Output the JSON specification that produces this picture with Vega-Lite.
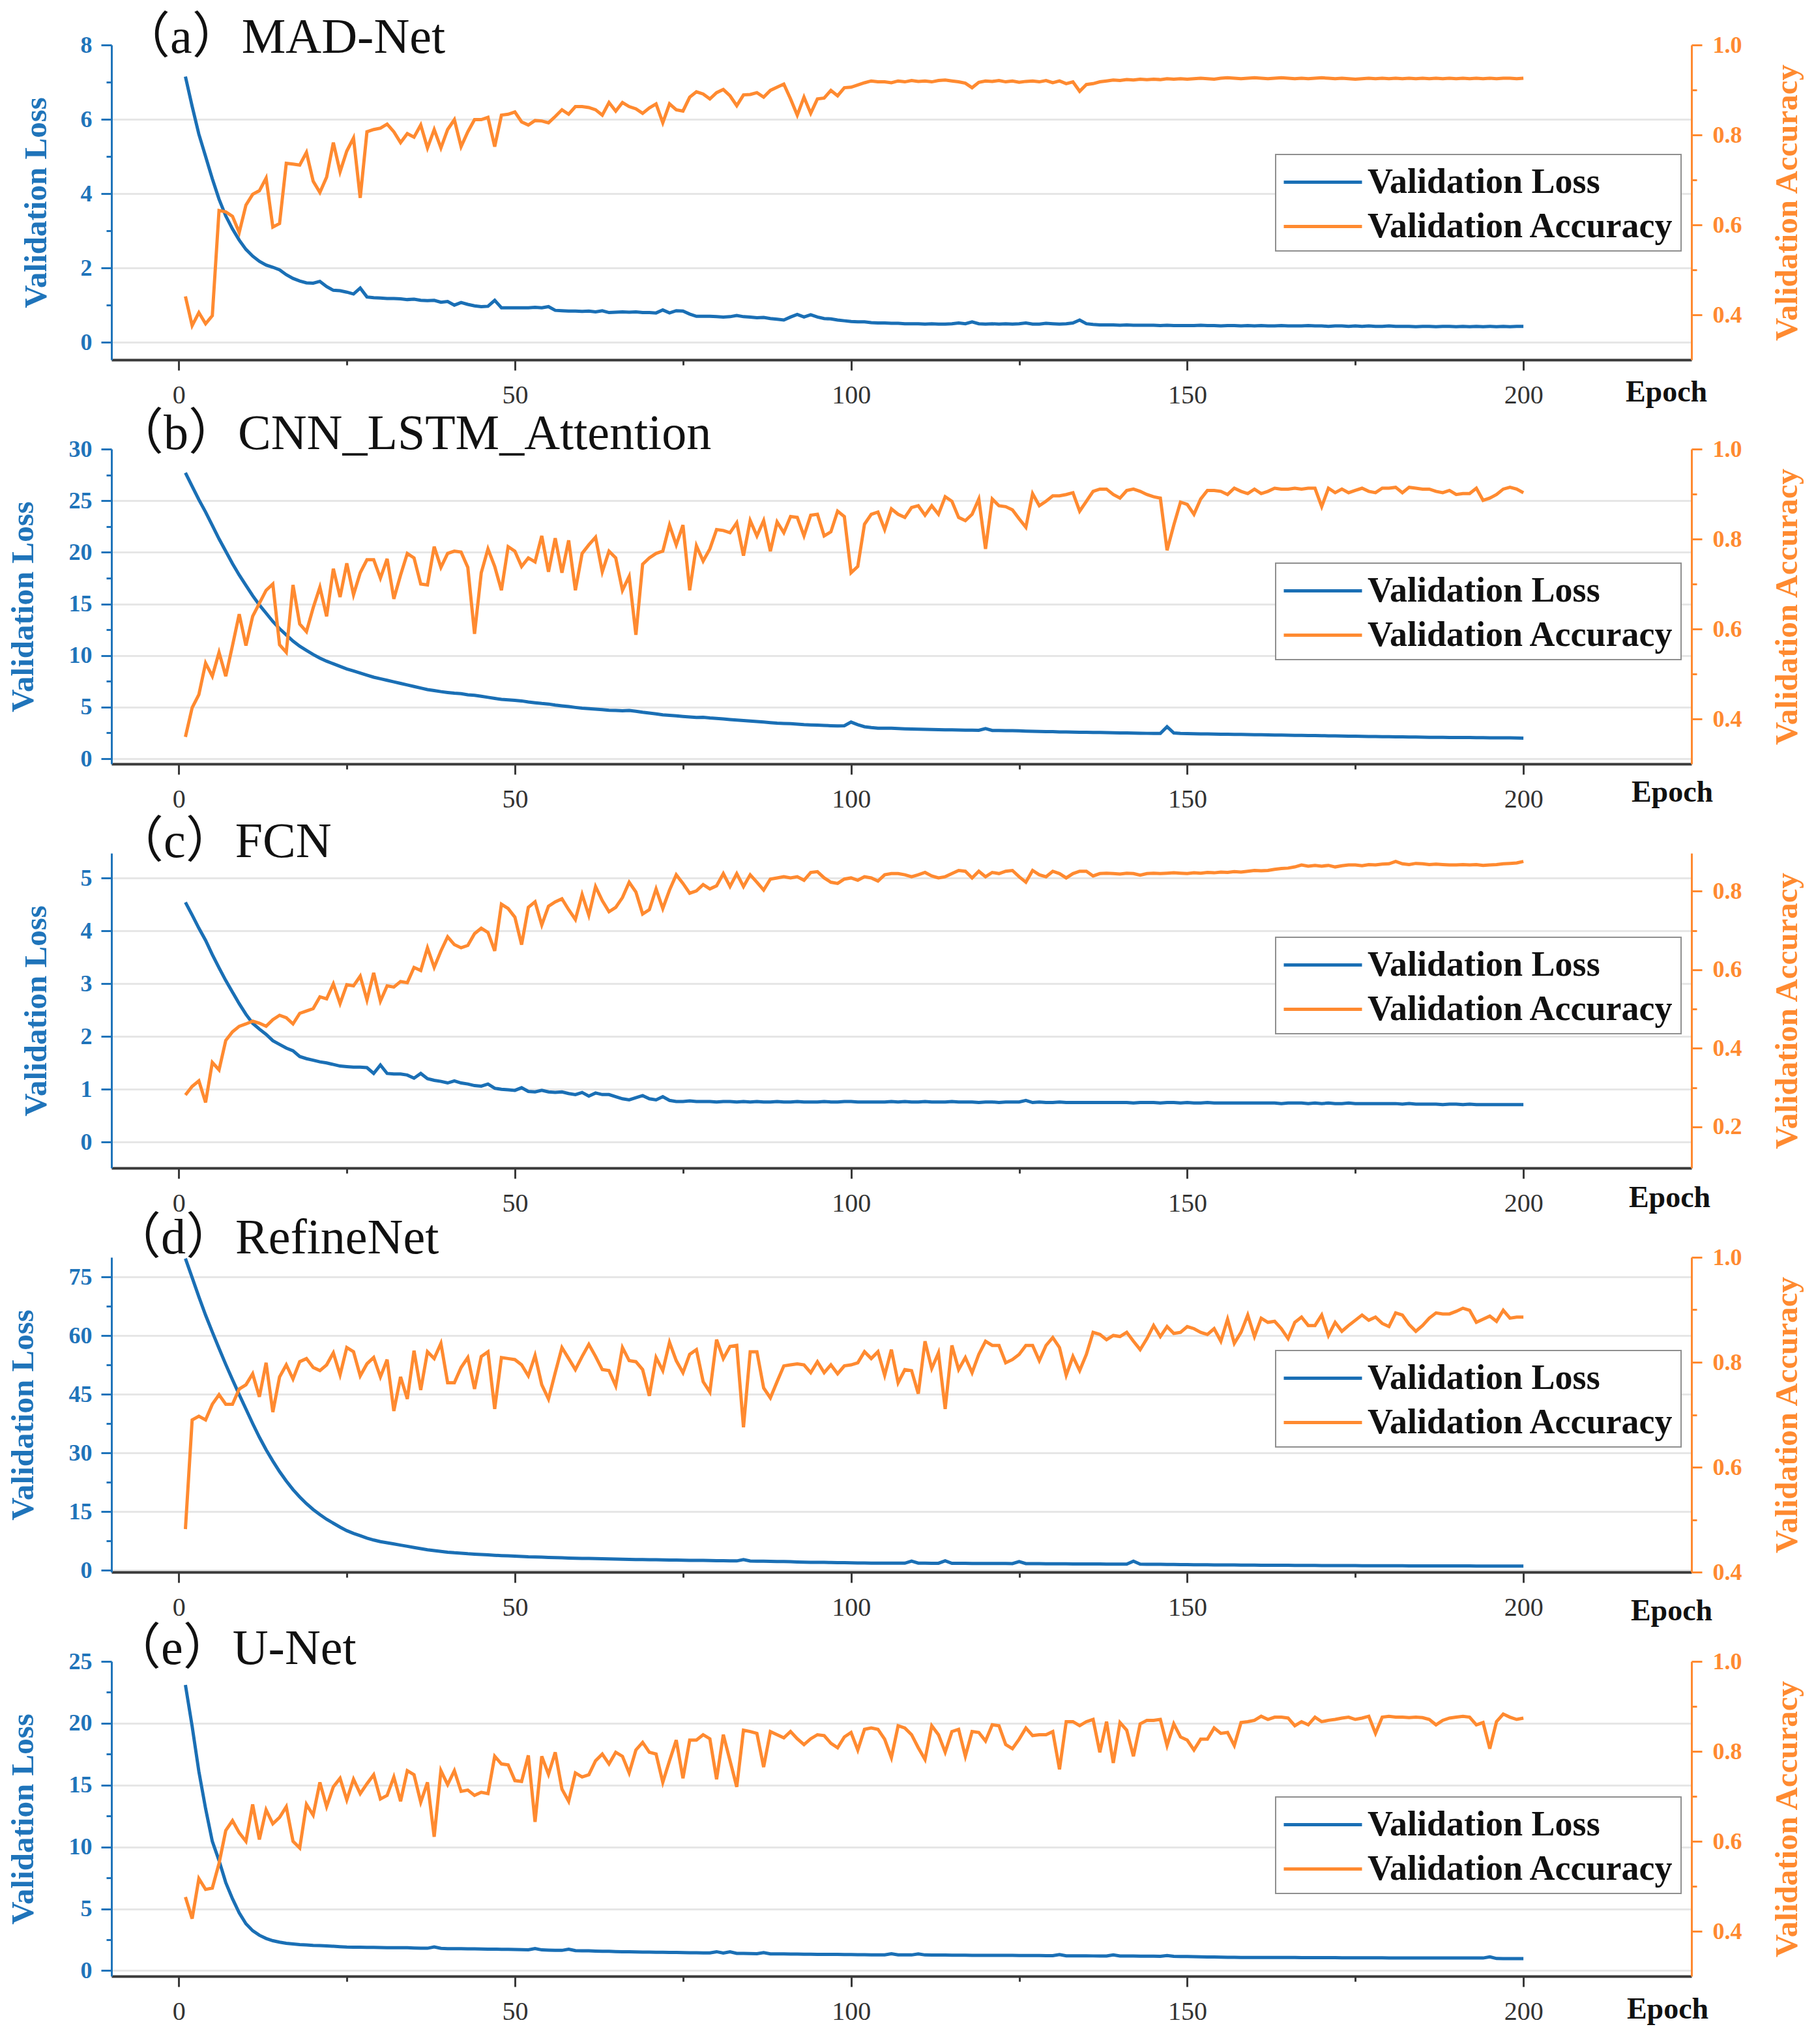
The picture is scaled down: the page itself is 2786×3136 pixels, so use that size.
{
  "$schema": "https://vega.github.io/schema/vega-lite/v6.json",
  "background": "white",
  "padding": {"left": 11, "top": 20, "right": 10, "bottom": 10},
  "spacing": 137,
  "bounds": "flush",
  "resolve": {"scale": {"color": "independent"}, "legend": {"color": "independent"}},
  "datasets": {
    "mad": [
      {"e":1,"loss":7.15,"acc":0.441},{"e":2,"loss":6.35,"acc":0.376},{"e":3,"loss":5.6,"acc":0.405},{"e":4,"loss":5.0,"acc":0.38},{"e":5,"loss":4.4,"acc":0.398},
      {"e":6,"loss":3.85,"acc":0.632},{"e":7,"loss":3.4,"acc":0.629},{"e":8,"loss":3.05,"acc":0.619},{"e":9,"loss":2.75,"acc":0.583},{"e":10,"loss":2.5,"acc":0.644},
      {"e":11,"loss":2.32,"acc":0.668},{"e":12,"loss":2.18,"acc":0.676},{"e":13,"loss":2.08,"acc":0.704},{"e":14,"loss":2.02,"acc":0.595},{"e":15,"loss":1.95,"acc":0.603},
      {"e":16,"loss":1.82,"acc":0.737},{"e":17,"loss":1.72,"acc":0.735},{"e":18,"loss":1.65,"acc":0.733},{"e":19,"loss":1.6,"acc":0.761},{"e":20,"loss":1.59,"acc":0.697},
      {"e":21,"loss":1.64,"acc":0.672},{"e":22,"loss":1.5,"acc":0.706},{"e":23,"loss":1.4,"acc":0.783},{"e":24,"loss":1.39,"acc":0.718},{"e":25,"loss":1.35,"acc":0.764},
      {"e":26,"loss":1.3,"acc":0.793},{"e":27,"loss":1.46,"acc":0.66},{"e":28,"loss":1.22,"acc":0.807},{"e":29,"loss":1.2,"acc":0.812},{"e":30,"loss":1.19,"acc":0.815},
      {"e":31,"loss":1.18,"acc":0.824},{"e":32,"loss":1.18,"acc":0.807},{"e":33,"loss":1.17,"acc":0.783},{"e":34,"loss":1.15,"acc":0.803},{"e":35,"loss":1.16,"acc":0.795},
      {"e":36,"loss":1.13,"acc":0.822},{"e":37,"loss":1.12,"acc":0.771},{"e":38,"loss":1.13,"acc":0.812},{"e":39,"loss":1.08,"acc":0.771},{"e":40,"loss":1.1,"acc":0.812},
      {"e":41,"loss":1.0,"acc":0.834},{"e":42,"loss":1.07,"acc":0.774},{"e":43,"loss":1.02,"acc":0.807},{"e":44,"loss":0.98,"acc":0.834},{"e":45,"loss":0.96,"acc":0.834},
      {"e":46,"loss":0.97,"acc":0.839},{"e":47,"loss":1.13,"acc":0.774},{"e":48,"loss":0.93,"acc":0.844},{"e":49,"loss":0.93,"acc":0.846},{"e":50,"loss":0.93,"acc":0.851},
      {"e":51,"loss":0.93,"acc":0.829},{"e":52,"loss":0.93,"acc":0.822},{"e":53,"loss":0.94,"acc":0.832},{"e":54,"loss":0.93,"acc":0.831},{"e":55,"loss":0.96,"acc":0.827},
      {"e":56,"loss":0.86,"acc":0.841},{"e":57,"loss":0.85,"acc":0.856},{"e":58,"loss":0.84,"acc":0.846},{"e":59,"loss":0.84,"acc":0.863},{"e":60,"loss":0.83,"acc":0.863},
      {"e":61,"loss":0.84,"acc":0.861},{"e":62,"loss":0.82,"acc":0.856},{"e":63,"loss":0.85,"acc":0.844},{"e":64,"loss":0.8,"acc":0.872},{"e":65,"loss":0.81,"acc":0.853},
      {"e":66,"loss":0.82,"acc":0.872},{"e":67,"loss":0.81,"acc":0.863},{"e":68,"loss":0.82,"acc":0.858},{"e":69,"loss":0.8,"acc":0.848},{"e":70,"loss":0.8,"acc":0.86},
      {"e":71,"loss":0.79,"acc":0.869},{"e":72,"loss":0.87,"acc":0.827},{"e":73,"loss":0.79,"acc":0.869},{"e":74,"loss":0.85,"acc":0.856},{"e":75,"loss":0.84,"acc":0.853},
      {"e":76,"loss":0.76,"acc":0.884},{"e":77,"loss":0.7,"acc":0.896},{"e":78,"loss":0.7,"acc":0.891},{"e":79,"loss":0.7,"acc":0.88},{"e":80,"loss":0.69,"acc":0.894},
      {"e":81,"loss":0.68,"acc":0.901},{"e":82,"loss":0.69,"acc":0.887},{"e":83,"loss":0.72,"acc":0.865},{"e":84,"loss":0.69,"acc":0.889},{"e":85,"loss":0.68,"acc":0.89},
      {"e":86,"loss":0.66,"acc":0.894},{"e":87,"loss":0.67,"acc":0.884},{"e":88,"loss":0.64,"acc":0.899},{"e":89,"loss":0.62,"acc":0.906},{"e":90,"loss":0.6,"acc":0.913},
      {"e":91,"loss":0.68,"acc":0.88},{"e":92,"loss":0.75,"acc":0.844},{"e":93,"loss":0.68,"acc":0.884},{"e":94,"loss":0.74,"acc":0.848},{"e":95,"loss":0.68,"acc":0.88},
      {"e":96,"loss":0.64,"acc":0.882},{"e":97,"loss":0.63,"acc":0.899},{"e":98,"loss":0.6,"acc":0.887},{"e":99,"loss":0.58,"acc":0.905},{"e":100,"loss":0.56,"acc":0.906},
      {"e":101,"loss":0.55,"acc":0.911},{"e":102,"loss":0.55,"acc":0.916},{"e":103,"loss":0.53,"acc":0.92},{"e":104,"loss":0.52,"acc":0.918},{"e":105,"loss":0.52,"acc":0.918},
      {"e":106,"loss":0.51,"acc":0.916},{"e":107,"loss":0.51,"acc":0.92},{"e":108,"loss":0.5,"acc":0.918},{"e":109,"loss":0.5,"acc":0.921},{"e":110,"loss":0.5,"acc":0.919},
      {"e":111,"loss":0.49,"acc":0.92},{"e":112,"loss":0.5,"acc":0.918},{"e":113,"loss":0.49,"acc":0.921},{"e":114,"loss":0.49,"acc":0.922},{"e":115,"loss":0.5,"acc":0.92},
      {"e":116,"loss":0.52,"acc":0.918},{"e":117,"loss":0.5,"acc":0.915},{"e":118,"loss":0.55,"acc":0.905},{"e":119,"loss":0.5,"acc":0.917},{"e":120,"loss":0.49,"acc":0.92},
      {"e":121,"loss":0.5,"acc":0.919},{"e":122,"loss":0.49,"acc":0.921},{"e":123,"loss":0.5,"acc":0.918},{"e":124,"loss":0.49,"acc":0.92},{"e":125,"loss":0.5,"acc":0.917},
      {"e":126,"loss":0.52,"acc":0.919},{"e":127,"loss":0.49,"acc":0.92},{"e":128,"loss":0.49,"acc":0.918},{"e":129,"loss":0.51,"acc":0.921},{"e":130,"loss":0.5,"acc":0.916},
      {"e":131,"loss":0.49,"acc":0.92},{"e":132,"loss":0.5,"acc":0.914},{"e":133,"loss":0.52,"acc":0.918},{"e":134,"loss":0.6,"acc":0.897},{"e":135,"loss":0.5,"acc":0.912},
      {"e":136,"loss":0.48,"acc":0.914},{"e":137,"loss":0.47,"acc":0.918},{"e":138,"loss":0.47,"acc":0.92},{"e":139,"loss":0.47,"acc":0.922},{"e":140,"loss":0.46,"acc":0.921},
      {"e":141,"loss":0.47,"acc":0.923},{"e":142,"loss":0.46,"acc":0.922},{"e":143,"loss":0.46,"acc":0.924},{"e":144,"loss":0.46,"acc":0.923},{"e":145,"loss":0.46,"acc":0.924},
      {"e":146,"loss":0.45,"acc":0.923},{"e":147,"loss":0.46,"acc":0.925},{"e":148,"loss":0.45,"acc":0.924},{"e":149,"loss":0.45,"acc":0.925},{"e":150,"loss":0.45,"acc":0.924},
      {"e":151,"loss":0.45,"acc":0.925},{"e":152,"loss":0.46,"acc":0.926},{"e":153,"loss":0.45,"acc":0.925},{"e":154,"loss":0.45,"acc":0.924},{"e":155,"loss":0.44,"acc":0.926},
      {"e":156,"loss":0.45,"acc":0.927},{"e":157,"loss":0.45,"acc":0.926},{"e":158,"loss":0.44,"acc":0.925},{"e":159,"loss":0.45,"acc":0.926},{"e":160,"loss":0.44,"acc":0.927},
      {"e":161,"loss":0.45,"acc":0.926},{"e":162,"loss":0.44,"acc":0.925},{"e":163,"loss":0.44,"acc":0.926},{"e":164,"loss":0.45,"acc":0.927},{"e":165,"loss":0.44,"acc":0.926},
      {"e":166,"loss":0.44,"acc":0.925},{"e":167,"loss":0.44,"acc":0.926},{"e":168,"loss":0.45,"acc":0.925},{"e":169,"loss":0.44,"acc":0.926},{"e":170,"loss":0.44,"acc":0.927},
      {"e":171,"loss":0.43,"acc":0.926},{"e":172,"loss":0.44,"acc":0.925},{"e":173,"loss":0.44,"acc":0.926},{"e":174,"loss":0.43,"acc":0.925},{"e":175,"loss":0.44,"acc":0.924},
      {"e":176,"loss":0.43,"acc":0.925},{"e":177,"loss":0.44,"acc":0.926},{"e":178,"loss":0.43,"acc":0.925},{"e":179,"loss":0.43,"acc":0.926},{"e":180,"loss":0.44,"acc":0.925},
      {"e":181,"loss":0.43,"acc":0.926},{"e":182,"loss":0.43,"acc":0.925},{"e":183,"loss":0.43,"acc":0.926},{"e":184,"loss":0.42,"acc":0.925},{"e":185,"loss":0.43,"acc":0.926},
      {"e":186,"loss":0.43,"acc":0.925},{"e":187,"loss":0.42,"acc":0.926},{"e":188,"loss":0.43,"acc":0.925},{"e":189,"loss":0.43,"acc":0.926},{"e":190,"loss":0.42,"acc":0.925},
      {"e":191,"loss":0.43,"acc":0.926},{"e":192,"loss":0.42,"acc":0.925},{"e":193,"loss":0.43,"acc":0.926},{"e":194,"loss":0.42,"acc":0.925},{"e":195,"loss":0.43,"acc":0.926},
      {"e":196,"loss":0.42,"acc":0.925},{"e":197,"loss":0.43,"acc":0.926},{"e":198,"loss":0.42,"acc":0.926},{"e":199,"loss":0.43,"acc":0.925},{"e":200,"loss":0.43,"acc":0.926}
    ],
    "cnn": [
      {"e":1,"loss":27.7,"acc":0.36},{"e":2,"loss":26.4,"acc":0.425},{"e":3,"loss":25.1,"acc":0.454},{"e":4,"loss":23.9,"acc":0.524},{"e":5,"loss":22.6,"acc":0.495},
      {"e":6,"loss":21.3,"acc":0.548},{"e":7,"loss":20.1,"acc":0.495},{"e":8,"loss":18.9,"acc":0.563},{"e":9,"loss":17.8,"acc":0.633},{"e":10,"loss":16.8,"acc":0.563},
      {"e":11,"loss":15.8,"acc":0.628},{"e":12,"loss":14.9,"acc":0.657},{"e":13,"loss":14.1,"acc":0.686},{"e":14,"loss":13.3,"acc":0.7},{"e":15,"loss":12.6,"acc":0.565},
      {"e":16,"loss":12.0,"acc":0.548},{"e":17,"loss":11.4,"acc":0.698},{"e":18,"loss":10.9,"acc":0.611},{"e":19,"loss":10.5,"acc":0.594},{"e":20,"loss":10.1,"acc":0.647},
      {"e":21,"loss":9.75,"acc":0.693},{"e":22,"loss":9.45,"acc":0.628},{"e":23,"loss":9.2,"acc":0.734},{"e":24,"loss":8.95,"acc":0.671},{"e":25,"loss":8.7,"acc":0.746},
      {"e":26,"loss":8.5,"acc":0.676},{"e":27,"loss":8.3,"acc":0.725},{"e":28,"loss":8.1,"acc":0.754},{"e":29,"loss":7.9,"acc":0.754},{"e":30,"loss":7.75,"acc":0.713},
      {"e":31,"loss":7.6,"acc":0.756},{"e":32,"loss":7.45,"acc":0.667},{"e":33,"loss":7.3,"acc":0.72},{"e":34,"loss":7.15,"acc":0.768},{"e":35,"loss":7.0,"acc":0.758},
      {"e":36,"loss":6.85,"acc":0.7},{"e":37,"loss":6.7,"acc":0.698},{"e":38,"loss":6.6,"acc":0.783},{"e":39,"loss":6.5,"acc":0.737},{"e":40,"loss":6.42,"acc":0.768},
      {"e":41,"loss":6.35,"acc":0.773},{"e":42,"loss":6.3,"acc":0.771},{"e":43,"loss":6.2,"acc":0.737},{"e":44,"loss":6.15,"acc":0.589},{"e":45,"loss":6.05,"acc":0.725},
      {"e":46,"loss":5.95,"acc":0.778},{"e":47,"loss":5.85,"acc":0.739},{"e":48,"loss":5.75,"acc":0.686},{"e":49,"loss":5.7,"acc":0.783},{"e":50,"loss":5.65,"acc":0.773},
      {"e":51,"loss":5.6,"acc":0.739},{"e":52,"loss":5.5,"acc":0.758},{"e":53,"loss":5.42,"acc":0.749},{"e":54,"loss":5.35,"acc":0.807},{"e":55,"loss":5.3,"acc":0.727},
      {"e":56,"loss":5.2,"acc":0.802},{"e":57,"loss":5.12,"acc":0.725},{"e":58,"loss":5.05,"acc":0.797},{"e":59,"loss":4.97,"acc":0.686},{"e":60,"loss":4.9,"acc":0.768},
      {"e":61,"loss":4.85,"acc":0.787},{"e":62,"loss":4.8,"acc":0.804},{"e":63,"loss":4.75,"acc":0.727},{"e":64,"loss":4.7,"acc":0.773},{"e":65,"loss":4.68,"acc":0.758},
      {"e":66,"loss":4.65,"acc":0.686},{"e":67,"loss":4.68,"acc":0.717},{"e":68,"loss":4.6,"acc":0.587},{"e":69,"loss":4.5,"acc":0.744},{"e":70,"loss":4.42,"acc":0.758},
      {"e":71,"loss":4.35,"acc":0.768},{"e":72,"loss":4.25,"acc":0.773},{"e":73,"loss":4.2,"acc":0.831},{"e":74,"loss":4.15,"acc":0.787},{"e":75,"loss":4.1,"acc":0.831},
      {"e":76,"loss":4.05,"acc":0.686},{"e":77,"loss":4.0,"acc":0.785},{"e":78,"loss":4.02,"acc":0.751},{"e":79,"loss":3.95,"acc":0.778},{"e":80,"loss":3.9,"acc":0.821},
      {"e":81,"loss":3.85,"acc":0.819},{"e":82,"loss":3.8,"acc":0.814},{"e":83,"loss":3.75,"acc":0.836},{"e":84,"loss":3.7,"acc":0.763},{"e":85,"loss":3.65,"acc":0.841},
      {"e":86,"loss":3.6,"acc":0.807},{"e":87,"loss":3.55,"acc":0.841},{"e":88,"loss":3.5,"acc":0.773},{"e":89,"loss":3.45,"acc":0.838},{"e":90,"loss":3.42,"acc":0.814},
      {"e":91,"loss":3.4,"acc":0.85},{"e":92,"loss":3.35,"acc":0.848},{"e":93,"loss":3.3,"acc":0.807},{"e":94,"loss":3.28,"acc":0.853},{"e":95,"loss":3.25,"acc":0.855},
      {"e":96,"loss":3.22,"acc":0.807},{"e":97,"loss":3.2,"acc":0.816},{"e":98,"loss":3.18,"acc":0.862},{"e":99,"loss":3.2,"acc":0.85},{"e":100,"loss":3.55,"acc":0.725},
      {"e":101,"loss":3.3,"acc":0.739},{"e":102,"loss":3.1,"acc":0.833},{"e":103,"loss":3.02,"acc":0.855},{"e":104,"loss":2.96,"acc":0.86},{"e":105,"loss":2.95,"acc":0.821},
      {"e":106,"loss":2.95,"acc":0.867},{"e":107,"loss":2.92,"acc":0.855},{"e":108,"loss":2.9,"acc":0.848},{"e":109,"loss":2.88,"acc":0.87},{"e":110,"loss":2.86,"acc":0.874},
      {"e":111,"loss":2.85,"acc":0.853},{"e":112,"loss":2.83,"acc":0.874},{"e":113,"loss":2.82,"acc":0.855},{"e":114,"loss":2.8,"acc":0.894},{"e":115,"loss":2.8,"acc":0.884},
      {"e":116,"loss":2.78,"acc":0.848},{"e":117,"loss":2.77,"acc":0.841},{"e":118,"loss":2.76,"acc":0.855},{"e":119,"loss":2.75,"acc":0.889},{"e":120,"loss":2.92,"acc":0.778},
      {"e":121,"loss":2.74,"acc":0.889},{"e":122,"loss":2.74,"acc":0.874},{"e":123,"loss":2.72,"acc":0.872},{"e":124,"loss":2.72,"acc":0.865},{"e":125,"loss":2.7,"acc":0.845},
      {"e":126,"loss":2.68,"acc":0.826},{"e":127,"loss":2.66,"acc":0.901},{"e":128,"loss":2.64,"acc":0.874},{"e":129,"loss":2.63,"acc":0.884},{"e":130,"loss":2.62,"acc":0.896},
      {"e":131,"loss":2.6,"acc":0.896},{"e":132,"loss":2.6,"acc":0.899},{"e":133,"loss":2.58,"acc":0.903},{"e":134,"loss":2.57,"acc":0.862},{"e":135,"loss":2.56,"acc":0.884},
      {"e":136,"loss":2.55,"acc":0.906},{"e":137,"loss":2.54,"acc":0.911},{"e":138,"loss":2.53,"acc":0.911},{"e":139,"loss":2.52,"acc":0.899},{"e":140,"loss":2.5,"acc":0.891},
      {"e":141,"loss":2.5,"acc":0.908},{"e":142,"loss":2.48,"acc":0.911},{"e":143,"loss":2.47,"acc":0.906},{"e":144,"loss":2.46,"acc":0.899},{"e":145,"loss":2.45,"acc":0.894},
      {"e":146,"loss":2.45,"acc":0.891},{"e":147,"loss":3.1,"acc":0.775},{"e":148,"loss":2.5,"acc":0.831},{"e":149,"loss":2.45,"acc":0.882},{"e":150,"loss":2.43,"acc":0.877},
      {"e":151,"loss":2.42,"acc":0.855},{"e":152,"loss":2.41,"acc":0.889},{"e":153,"loss":2.4,"acc":0.908},{"e":154,"loss":2.39,"acc":0.908},{"e":155,"loss":2.38,"acc":0.906},
      {"e":156,"loss":2.37,"acc":0.899},{"e":157,"loss":2.36,"acc":0.913},{"e":158,"loss":2.35,"acc":0.906},{"e":159,"loss":2.34,"acc":0.901},{"e":160,"loss":2.33,"acc":0.911},
      {"e":161,"loss":2.32,"acc":0.901},{"e":162,"loss":2.31,"acc":0.906},{"e":163,"loss":2.3,"acc":0.913},{"e":164,"loss":2.29,"acc":0.911},{"e":165,"loss":2.28,"acc":0.911},
      {"e":166,"loss":2.27,"acc":0.913},{"e":167,"loss":2.26,"acc":0.911},{"e":168,"loss":2.25,"acc":0.913},{"e":169,"loss":2.24,"acc":0.913},{"e":170,"loss":2.23,"acc":0.872},
      {"e":171,"loss":2.22,"acc":0.913},{"e":172,"loss":2.21,"acc":0.903},{"e":173,"loss":2.2,"acc":0.911},{"e":174,"loss":2.19,"acc":0.903},{"e":175,"loss":2.18,"acc":0.908},
      {"e":176,"loss":2.17,"acc":0.913},{"e":177,"loss":2.16,"acc":0.906},{"e":178,"loss":2.15,"acc":0.903},{"e":179,"loss":2.14,"acc":0.913},{"e":180,"loss":2.13,"acc":0.913},
      {"e":181,"loss":2.12,"acc":0.915},{"e":182,"loss":2.12,"acc":0.903},{"e":183,"loss":2.11,"acc":0.915},{"e":184,"loss":2.1,"acc":0.913},{"e":185,"loss":2.09,"acc":0.911},
      {"e":186,"loss":2.08,"acc":0.911},{"e":187,"loss":2.08,"acc":0.906},{"e":188,"loss":2.07,"acc":0.903},{"e":189,"loss":2.06,"acc":0.908},{"e":190,"loss":2.06,"acc":0.899},
      {"e":191,"loss":2.05,"acc":0.901},{"e":192,"loss":2.05,"acc":0.901},{"e":193,"loss":2.04,"acc":0.913},{"e":194,"loss":2.04,"acc":0.886},{"e":195,"loss":2.03,"acc":0.891},
      {"e":196,"loss":2.03,"acc":0.899},{"e":197,"loss":2.02,"acc":0.911},{"e":198,"loss":2.02,"acc":0.915},{"e":199,"loss":2.01,"acc":0.911},{"e":200,"loss":2.0,"acc":0.903}
    ],
    "fcn": [
      {"e":1,"loss":4.54,"acc":0.281},{"e":2,"loss":4.3,"acc":0.303},{"e":3,"loss":4.05,"acc":0.317},{"e":4,"loss":3.82,"acc":0.262},{"e":5,"loss":3.55,"acc":0.364},
      {"e":6,"loss":3.3,"acc":0.345},{"e":7,"loss":3.06,"acc":0.42},{"e":8,"loss":2.84,"acc":0.442},{"e":9,"loss":2.62,"acc":0.456},{"e":10,"loss":2.42,"acc":0.462},
      {"e":11,"loss":2.25,"acc":0.469},{"e":12,"loss":2.14,"acc":0.464},{"e":13,"loss":2.04,"acc":0.456},{"e":14,"loss":1.92,"acc":0.473},{"e":15,"loss":1.85,"acc":0.484},
      {"e":16,"loss":1.78,"acc":0.478},{"e":17,"loss":1.73,"acc":0.462},{"e":18,"loss":1.62,"acc":0.489},{"e":19,"loss":1.58,"acc":0.495},{"e":20,"loss":1.55,"acc":0.501},
      {"e":21,"loss":1.52,"acc":0.531},{"e":22,"loss":1.5,"acc":0.526},{"e":23,"loss":1.47,"acc":0.564},{"e":24,"loss":1.44,"acc":0.514},{"e":25,"loss":1.43,"acc":0.562},
      {"e":26,"loss":1.42,"acc":0.559},{"e":27,"loss":1.42,"acc":0.584},{"e":28,"loss":1.41,"acc":0.523},{"e":29,"loss":1.3,"acc":0.592},{"e":30,"loss":1.46,"acc":0.52},
      {"e":31,"loss":1.3,"acc":0.559},{"e":32,"loss":1.29,"acc":0.556},{"e":33,"loss":1.29,"acc":0.57},{"e":34,"loss":1.27,"acc":0.567},{"e":35,"loss":1.21,"acc":0.606},
      {"e":36,"loss":1.3,"acc":0.598},{"e":37,"loss":1.2,"acc":0.656},{"e":38,"loss":1.17,"acc":0.606},{"e":39,"loss":1.15,"acc":0.648},{"e":40,"loss":1.12,"acc":0.684},
      {"e":41,"loss":1.16,"acc":0.664},{"e":42,"loss":1.12,"acc":0.656},{"e":43,"loss":1.1,"acc":0.662},{"e":44,"loss":1.07,"acc":0.692},{"e":45,"loss":1.06,"acc":0.706},
      {"e":46,"loss":1.1,"acc":0.695},{"e":47,"loss":1.02,"acc":0.648},{"e":48,"loss":1.0,"acc":0.767},{"e":49,"loss":0.99,"acc":0.756},{"e":50,"loss":0.98,"acc":0.734},
      {"e":51,"loss":1.03,"acc":0.664},{"e":52,"loss":0.96,"acc":0.759},{"e":53,"loss":0.95,"acc":0.773},{"e":54,"loss":0.98,"acc":0.714},{"e":55,"loss":0.95,"acc":0.762},
      {"e":56,"loss":0.94,"acc":0.773},{"e":57,"loss":0.95,"acc":0.781},{"e":58,"loss":0.92,"acc":0.753},{"e":59,"loss":0.9,"acc":0.728},{"e":60,"loss":0.94,"acc":0.792},
      {"e":61,"loss":0.87,"acc":0.739},{"e":62,"loss":0.93,"acc":0.812},{"e":63,"loss":0.9,"acc":0.776},{"e":64,"loss":0.9,"acc":0.748},{"e":65,"loss":0.86,"acc":0.759},
      {"e":66,"loss":0.82,"acc":0.784},{"e":67,"loss":0.8,"acc":0.823},{"e":68,"loss":0.84,"acc":0.798},{"e":69,"loss":0.88,"acc":0.742},{"e":70,"loss":0.82,"acc":0.753},
      {"e":71,"loss":0.8,"acc":0.806},{"e":72,"loss":0.86,"acc":0.756},{"e":73,"loss":0.79,"acc":0.803},{"e":74,"loss":0.77,"acc":0.842},{"e":75,"loss":0.77,"acc":0.82},
      {"e":76,"loss":0.78,"acc":0.795},{"e":77,"loss":0.77,"acc":0.801},{"e":78,"loss":0.77,"acc":0.817},{"e":79,"loss":0.77,"acc":0.806},{"e":80,"loss":0.76,"acc":0.814},
      {"e":81,"loss":0.77,"acc":0.845},{"e":82,"loss":0.77,"acc":0.812},{"e":83,"loss":0.76,"acc":0.845},{"e":84,"loss":0.77,"acc":0.812},{"e":85,"loss":0.76,"acc":0.842},
      {"e":86,"loss":0.77,"acc":0.823},{"e":87,"loss":0.76,"acc":0.803},{"e":88,"loss":0.76,"acc":0.831},{"e":89,"loss":0.77,"acc":0.834},{"e":90,"loss":0.76,"acc":0.837},
      {"e":91,"loss":0.76,"acc":0.834},{"e":92,"loss":0.77,"acc":0.837},{"e":93,"loss":0.76,"acc":0.828},{"e":94,"loss":0.76,"acc":0.848},{"e":95,"loss":0.76,"acc":0.85},
      {"e":96,"loss":0.77,"acc":0.834},{"e":97,"loss":0.76,"acc":0.823},{"e":98,"loss":0.76,"acc":0.82},{"e":99,"loss":0.77,"acc":0.831},{"e":100,"loss":0.77,"acc":0.834},
      {"e":101,"loss":0.76,"acc":0.828},{"e":102,"loss":0.76,"acc":0.837},{"e":103,"loss":0.76,"acc":0.834},{"e":104,"loss":0.76,"acc":0.826},{"e":105,"loss":0.76,"acc":0.842},
      {"e":106,"loss":0.77,"acc":0.845},{"e":107,"loss":0.76,"acc":0.845},{"e":108,"loss":0.77,"acc":0.842},{"e":109,"loss":0.76,"acc":0.837},{"e":110,"loss":0.76,"acc":0.842},
      {"e":111,"loss":0.77,"acc":0.848},{"e":112,"loss":0.76,"acc":0.839},{"e":113,"loss":0.76,"acc":0.834},{"e":114,"loss":0.76,"acc":0.837},{"e":115,"loss":0.77,"acc":0.845},
      {"e":116,"loss":0.76,"acc":0.853},{"e":117,"loss":0.76,"acc":0.851},{"e":118,"loss":0.76,"acc":0.834},{"e":119,"loss":0.75,"acc":0.851},{"e":120,"loss":0.76,"acc":0.837},
      {"e":121,"loss":0.76,"acc":0.848},{"e":122,"loss":0.75,"acc":0.845},{"e":123,"loss":0.76,"acc":0.851},{"e":124,"loss":0.76,"acc":0.853},{"e":125,"loss":0.76,"acc":0.837},
      {"e":126,"loss":0.79,"acc":0.823},{"e":127,"loss":0.75,"acc":0.853},{"e":128,"loss":0.76,"acc":0.842},{"e":129,"loss":0.75,"acc":0.837},{"e":130,"loss":0.75,"acc":0.851},
      {"e":131,"loss":0.76,"acc":0.845},{"e":132,"loss":0.75,"acc":0.834},{"e":133,"loss":0.75,"acc":0.845},{"e":134,"loss":0.75,"acc":0.851},{"e":135,"loss":0.75,"acc":0.851},
      {"e":136,"loss":0.75,"acc":0.839},{"e":137,"loss":0.75,"acc":0.845},{"e":138,"loss":0.75,"acc":0.846},{"e":139,"loss":0.75,"acc":0.845},{"e":140,"loss":0.75,"acc":0.844},
      {"e":141,"loss":0.75,"acc":0.846},{"e":142,"loss":0.74,"acc":0.845},{"e":143,"loss":0.75,"acc":0.841},{"e":144,"loss":0.75,"acc":0.845},{"e":145,"loss":0.75,"acc":0.846},
      {"e":146,"loss":0.74,"acc":0.845},{"e":147,"loss":0.75,"acc":0.846},{"e":148,"loss":0.75,"acc":0.847},{"e":149,"loss":0.74,"acc":0.846},{"e":150,"loss":0.75,"acc":0.845},
      {"e":151,"loss":0.74,"acc":0.847},{"e":152,"loss":0.74,"acc":0.846},{"e":153,"loss":0.75,"acc":0.848},{"e":154,"loss":0.74,"acc":0.847},{"e":155,"loss":0.74,"acc":0.849},
      {"e":156,"loss":0.74,"acc":0.848},{"e":157,"loss":0.74,"acc":0.85},{"e":158,"loss":0.74,"acc":0.849},{"e":159,"loss":0.74,"acc":0.851},{"e":160,"loss":0.74,"acc":0.853},
      {"e":161,"loss":0.74,"acc":0.852},{"e":162,"loss":0.74,"acc":0.853},{"e":163,"loss":0.74,"acc":0.856},{"e":164,"loss":0.73,"acc":0.858},{"e":165,"loss":0.74,"acc":0.859},
      {"e":166,"loss":0.74,"acc":0.862},{"e":167,"loss":0.74,"acc":0.867},{"e":168,"loss":0.73,"acc":0.864},{"e":169,"loss":0.74,"acc":0.866},{"e":170,"loss":0.73,"acc":0.864},
      {"e":171,"loss":0.74,"acc":0.866},{"e":172,"loss":0.73,"acc":0.862},{"e":173,"loss":0.73,"acc":0.865},{"e":174,"loss":0.74,"acc":0.867},{"e":175,"loss":0.73,"acc":0.867},
      {"e":176,"loss":0.73,"acc":0.865},{"e":177,"loss":0.73,"acc":0.868},{"e":178,"loss":0.73,"acc":0.867},{"e":179,"loss":0.73,"acc":0.869},{"e":180,"loss":0.73,"acc":0.87},
      {"e":181,"loss":0.73,"acc":0.876},{"e":182,"loss":0.72,"acc":0.87},{"e":183,"loss":0.73,"acc":0.868},{"e":184,"loss":0.72,"acc":0.871},{"e":185,"loss":0.72,"acc":0.87},
      {"e":186,"loss":0.72,"acc":0.868},{"e":187,"loss":0.72,"acc":0.869},{"e":188,"loss":0.71,"acc":0.868},{"e":189,"loss":0.72,"acc":0.867},{"e":190,"loss":0.72,"acc":0.867},
      {"e":191,"loss":0.71,"acc":0.868},{"e":192,"loss":0.72,"acc":0.867},{"e":193,"loss":0.71,"acc":0.868},{"e":194,"loss":0.71,"acc":0.866},{"e":195,"loss":0.71,"acc":0.867},
      {"e":196,"loss":0.71,"acc":0.868},{"e":197,"loss":0.71,"acc":0.87},{"e":198,"loss":0.71,"acc":0.871},{"e":199,"loss":0.71,"acc":0.872},{"e":200,"loss":0.71,"acc":0.876}
    ],
    "refine": [
      {"e":1,"loss":79.7,"acc":0.482},{"e":2,"loss":74.8,"acc":0.69},{"e":3,"loss":69.9,"acc":0.697},{"e":4,"loss":65.2,"acc":0.69},{"e":5,"loss":60.9,"acc":0.72},
      {"e":6,"loss":56.7,"acc":0.738},{"e":7,"loss":52.6,"acc":0.72},{"e":8,"loss":48.7,"acc":0.72},{"e":9,"loss":44.9,"acc":0.749},{"e":10,"loss":41.2,"acc":0.757},
      {"e":11,"loss":37.5,"acc":0.778},{"e":12,"loss":34.0,"acc":0.734},{"e":13,"loss":30.8,"acc":0.799},{"e":14,"loss":27.9,"acc":0.705},{"e":15,"loss":25.2,"acc":0.772},
      {"e":16,"loss":22.8,"acc":0.795},{"e":17,"loss":20.6,"acc":0.768},{"e":18,"loss":18.7,"acc":0.801},{"e":19,"loss":17.0,"acc":0.807},{"e":20,"loss":15.5,"acc":0.79},
      {"e":21,"loss":14.2,"acc":0.784},{"e":22,"loss":13.0,"acc":0.795},{"e":23,"loss":12.0,"acc":0.818},{"e":24,"loss":11.0,"acc":0.776},{"e":25,"loss":10.1,"acc":0.828},
      {"e":26,"loss":9.4,"acc":0.82},{"e":27,"loss":8.8,"acc":0.774},{"e":28,"loss":8.2,"acc":0.797},{"e":29,"loss":7.7,"acc":0.809},{"e":30,"loss":7.3,"acc":0.772},
      {"e":31,"loss":7.0,"acc":0.805},{"e":32,"loss":6.7,"acc":0.707},{"e":33,"loss":6.4,"acc":0.772},{"e":34,"loss":6.1,"acc":0.73},{"e":35,"loss":5.8,"acc":0.822},
      {"e":36,"loss":5.5,"acc":0.747},{"e":37,"loss":5.2,"acc":0.82},{"e":38,"loss":5.0,"acc":0.807},{"e":39,"loss":4.8,"acc":0.836},{"e":40,"loss":4.6,"acc":0.761},
      {"e":41,"loss":4.45,"acc":0.761},{"e":42,"loss":4.35,"acc":0.79},{"e":43,"loss":4.2,"acc":0.809},{"e":44,"loss":4.1,"acc":0.749},{"e":45,"loss":4.0,"acc":0.811},
      {"e":46,"loss":3.9,"acc":0.82},{"e":47,"loss":3.8,"acc":0.711},{"e":48,"loss":3.72,"acc":0.809},{"e":49,"loss":3.65,"acc":0.807},{"e":50,"loss":3.58,"acc":0.805},
      {"e":51,"loss":3.5,"acc":0.795},{"e":52,"loss":3.42,"acc":0.774},{"e":53,"loss":3.38,"acc":0.813},{"e":54,"loss":3.32,"acc":0.757},{"e":55,"loss":3.27,"acc":0.73},
      {"e":56,"loss":3.2,"acc":0.78},{"e":57,"loss":3.15,"acc":0.828},{"e":58,"loss":3.1,"acc":0.807},{"e":59,"loss":3.05,"acc":0.786},{"e":60,"loss":3.0,"acc":0.811},
      {"e":61,"loss":2.98,"acc":0.834},{"e":62,"loss":2.94,"acc":0.811},{"e":63,"loss":2.9,"acc":0.786},{"e":64,"loss":2.86,"acc":0.784},{"e":65,"loss":2.82,"acc":0.755},
      {"e":66,"loss":2.8,"acc":0.828},{"e":67,"loss":2.76,"acc":0.803},{"e":68,"loss":2.72,"acc":0.801},{"e":69,"loss":2.7,"acc":0.786},{"e":70,"loss":2.68,"acc":0.736},
      {"e":71,"loss":2.65,"acc":0.809},{"e":72,"loss":2.62,"acc":0.784},{"e":73,"loss":2.6,"acc":0.838},{"e":74,"loss":2.58,"acc":0.803},{"e":75,"loss":2.55,"acc":0.78},
      {"e":76,"loss":2.52,"acc":0.815},{"e":77,"loss":2.5,"acc":0.824},{"e":78,"loss":2.48,"acc":0.763},{"e":79,"loss":2.45,"acc":0.743},{"e":80,"loss":2.42,"acc":0.843},
      {"e":81,"loss":2.4,"acc":0.807},{"e":82,"loss":2.38,"acc":0.83},{"e":83,"loss":2.36,"acc":0.832},{"e":84,"loss":2.7,"acc":0.676},{"e":85,"loss":2.35,"acc":0.82},
      {"e":86,"loss":2.3,"acc":0.82},{"e":87,"loss":2.28,"acc":0.751},{"e":88,"loss":2.25,"acc":0.732},{"e":89,"loss":2.22,"acc":0.763},{"e":90,"loss":2.2,"acc":0.793},
      {"e":91,"loss":2.15,"acc":0.795},{"e":92,"loss":2.1,"acc":0.797},{"e":93,"loss":2.05,"acc":0.795},{"e":94,"loss":2.02,"acc":0.78},{"e":95,"loss":2.0,"acc":0.801},
      {"e":96,"loss":1.98,"acc":0.78},{"e":97,"loss":1.95,"acc":0.795},{"e":98,"loss":1.92,"acc":0.778},{"e":99,"loss":1.9,"acc":0.793},{"e":100,"loss":1.88,"acc":0.795},
      {"e":101,"loss":1.85,"acc":0.799},{"e":102,"loss":1.82,"acc":0.82},{"e":103,"loss":1.8,"acc":0.807},{"e":104,"loss":1.78,"acc":0.82},{"e":105,"loss":1.8,"acc":0.775},
      {"e":106,"loss":1.78,"acc":0.824},{"e":107,"loss":1.8,"acc":0.761},{"e":108,"loss":1.78,"acc":0.786},{"e":109,"loss":2.3,"acc":0.784},{"e":110,"loss":1.8,"acc":0.74},
      {"e":111,"loss":1.78,"acc":0.84},{"e":112,"loss":1.77,"acc":0.788},{"e":113,"loss":1.76,"acc":0.818},{"e":114,"loss":2.4,"acc":0.711},{"e":115,"loss":1.75,"acc":0.832},
      {"e":116,"loss":1.74,"acc":0.786},{"e":117,"loss":1.73,"acc":0.809},{"e":118,"loss":1.72,"acc":0.78},{"e":119,"loss":1.72,"acc":0.815},{"e":120,"loss":1.71,"acc":0.84},
      {"e":121,"loss":1.7,"acc":0.832},{"e":122,"loss":1.7,"acc":0.832},{"e":123,"loss":1.69,"acc":0.799},{"e":124,"loss":1.68,"acc":0.805},{"e":125,"loss":2.2,"acc":0.815},
      {"e":126,"loss":1.68,"acc":0.832},{"e":127,"loss":1.66,"acc":0.832},{"e":128,"loss":1.65,"acc":0.803},{"e":129,"loss":1.64,"acc":0.832},{"e":130,"loss":1.63,"acc":0.847},
      {"e":131,"loss":1.62,"acc":0.828},{"e":132,"loss":1.61,"acc":0.775},{"e":133,"loss":1.6,"acc":0.811},{"e":134,"loss":1.6,"acc":0.784},{"e":135,"loss":1.59,"acc":0.815},
      {"e":136,"loss":1.58,"acc":0.857},{"e":137,"loss":1.57,"acc":0.853},{"e":138,"loss":1.56,"acc":0.843},{"e":139,"loss":1.55,"acc":0.851},{"e":140,"loss":1.55,"acc":0.849},
      {"e":141,"loss":1.54,"acc":0.857},{"e":142,"loss":2.3,"acc":0.84},{"e":143,"loss":1.55,"acc":0.824},{"e":144,"loss":1.52,"acc":0.845},{"e":145,"loss":1.5,"acc":0.87},
      {"e":146,"loss":1.48,"acc":0.849},{"e":147,"loss":1.46,"acc":0.868},{"e":148,"loss":1.44,"acc":0.855},{"e":149,"loss":1.42,"acc":0.857},{"e":150,"loss":1.4,"acc":0.868},
      {"e":151,"loss":1.39,"acc":0.864},{"e":152,"loss":1.38,"acc":0.857},{"e":153,"loss":1.36,"acc":0.853},{"e":154,"loss":1.35,"acc":0.864},{"e":155,"loss":1.34,"acc":0.84},
      {"e":156,"loss":1.33,"acc":0.882},{"e":157,"loss":1.32,"acc":0.836},{"e":158,"loss":1.3,"acc":0.857},{"e":159,"loss":1.29,"acc":0.89},{"e":160,"loss":1.28,"acc":0.849},
      {"e":161,"loss":1.27,"acc":0.884},{"e":162,"loss":1.26,"acc":0.876},{"e":163,"loss":1.25,"acc":0.878},{"e":164,"loss":1.24,"acc":0.864},{"e":165,"loss":1.23,"acc":0.845},
      {"e":166,"loss":1.22,"acc":0.876},{"e":167,"loss":1.21,"acc":0.886},{"e":168,"loss":1.2,"acc":0.87},{"e":169,"loss":1.19,"acc":0.87},{"e":170,"loss":1.18,"acc":0.89},
      {"e":171,"loss":1.18,"acc":0.851},{"e":172,"loss":1.17,"acc":0.876},{"e":173,"loss":1.16,"acc":0.859},{"e":174,"loss":1.15,"acc":0.87},{"e":175,"loss":1.15,"acc":0.88},
      {"e":176,"loss":1.14,"acc":0.89},{"e":177,"loss":1.13,"acc":0.88},{"e":178,"loss":1.13,"acc":0.886},{"e":179,"loss":1.12,"acc":0.874},{"e":180,"loss":1.12,"acc":0.868},
      {"e":181,"loss":1.11,"acc":0.894},{"e":182,"loss":1.11,"acc":0.89},{"e":183,"loss":1.1,"acc":0.872},{"e":184,"loss":1.1,"acc":0.859},{"e":185,"loss":1.09,"acc":0.87},
      {"e":186,"loss":1.09,"acc":0.884},{"e":187,"loss":1.08,"acc":0.894},{"e":188,"loss":1.08,"acc":0.892},{"e":189,"loss":1.08,"acc":0.892},{"e":190,"loss":1.07,"acc":0.897},
      {"e":191,"loss":1.07,"acc":0.903},{"e":192,"loss":1.07,"acc":0.899},{"e":193,"loss":1.06,"acc":0.876},{"e":194,"loss":1.06,"acc":0.882},{"e":195,"loss":1.06,"acc":0.888},
      {"e":196,"loss":1.06,"acc":0.878},{"e":197,"loss":1.05,"acc":0.899},{"e":198,"loss":1.05,"acc":0.884},{"e":199,"loss":1.05,"acc":0.886},{"e":200,"loss":1.05,"acc":0.886}
    ],
    "unet": [
      {"e":1,"loss":23.1,"acc":0.476},{"e":2,"loss":19.75,"acc":0.428},{"e":3,"loss":16.1,"acc":0.517},{"e":4,"loss":13.1,"acc":0.493},{"e":5,"loss":10.45,"acc":0.496},
      {"e":6,"loss":8.9,"acc":0.551},{"e":7,"loss":7.12,"acc":0.624},{"e":8,"loss":5.81,"acc":0.646},{"e":9,"loss":4.67,"acc":0.619},{"e":10,"loss":3.79,"acc":0.6},
      {"e":11,"loss":3.23,"acc":0.682},{"e":12,"loss":2.86,"acc":0.604},{"e":13,"loss":2.6,"acc":0.67},{"e":14,"loss":2.42,"acc":0.639},{"e":15,"loss":2.3,"acc":0.653},
      {"e":16,"loss":2.21,"acc":0.677},{"e":17,"loss":2.16,"acc":0.6},{"e":18,"loss":2.11,"acc":0.585},{"e":19,"loss":2.08,"acc":0.682},{"e":20,"loss":2.04,"acc":0.658},
      {"e":21,"loss":2.02,"acc":0.731},{"e":22,"loss":2.0,"acc":0.677},{"e":23,"loss":1.97,"acc":0.721},{"e":24,"loss":1.94,"acc":0.74},{"e":25,"loss":1.91,"acc":0.692},
      {"e":26,"loss":1.9,"acc":0.738},{"e":27,"loss":1.89,"acc":0.706},{"e":28,"loss":1.88,"acc":0.728},{"e":29,"loss":1.88,"acc":0.748},{"e":30,"loss":1.87,"acc":0.694},
      {"e":31,"loss":1.86,"acc":0.702},{"e":32,"loss":1.86,"acc":0.743},{"e":33,"loss":1.85,"acc":0.689},{"e":34,"loss":1.85,"acc":0.757},{"e":35,"loss":1.83,"acc":0.748},
      {"e":36,"loss":1.82,"acc":0.687},{"e":37,"loss":1.81,"acc":0.731},{"e":38,"loss":1.92,"acc":0.61},{"e":39,"loss":1.8,"acc":0.757},{"e":40,"loss":1.78,"acc":0.726},
      {"e":41,"loss":1.78,"acc":0.757},{"e":42,"loss":1.77,"acc":0.711},{"e":43,"loss":1.76,"acc":0.714},{"e":44,"loss":1.76,"acc":0.702},{"e":45,"loss":1.75,"acc":0.709},
      {"e":46,"loss":1.74,"acc":0.706},{"e":47,"loss":1.74,"acc":0.789},{"e":48,"loss":1.72,"acc":0.772},{"e":49,"loss":1.72,"acc":0.77},{"e":50,"loss":1.71,"acc":0.735},
      {"e":51,"loss":1.7,"acc":0.733},{"e":52,"loss":1.69,"acc":0.791},{"e":53,"loss":1.79,"acc":0.643},{"e":54,"loss":1.68,"acc":0.789},{"e":55,"loss":1.66,"acc":0.749},
      {"e":56,"loss":1.65,"acc":0.798},{"e":57,"loss":1.64,"acc":0.716},{"e":58,"loss":1.74,"acc":0.689},{"e":59,"loss":1.62,"acc":0.752},{"e":60,"loss":1.6,"acc":0.743},
      {"e":61,"loss":1.6,"acc":0.748},{"e":62,"loss":1.58,"acc":0.779},{"e":63,"loss":1.57,"acc":0.794},{"e":64,"loss":1.56,"acc":0.772},{"e":65,"loss":1.54,"acc":0.798},
      {"e":66,"loss":1.53,"acc":0.789},{"e":67,"loss":1.52,"acc":0.752},{"e":68,"loss":1.51,"acc":0.803},{"e":69,"loss":1.5,"acc":0.82},{"e":70,"loss":1.5,"acc":0.798},
      {"e":71,"loss":1.49,"acc":0.794},{"e":72,"loss":1.48,"acc":0.731},{"e":73,"loss":1.47,"acc":0.779},{"e":74,"loss":1.47,"acc":0.825},{"e":75,"loss":1.46,"acc":0.74},
      {"e":76,"loss":1.45,"acc":0.825},{"e":77,"loss":1.45,"acc":0.825},{"e":78,"loss":1.44,"acc":0.837},{"e":79,"loss":1.43,"acc":0.828},{"e":80,"loss":1.53,"acc":0.738},
      {"e":81,"loss":1.42,"acc":0.837},{"e":82,"loss":1.52,"acc":0.779},{"e":83,"loss":1.4,"acc":0.721},{"e":84,"loss":1.39,"acc":0.847},{"e":85,"loss":1.38,"acc":0.844},
      {"e":86,"loss":1.37,"acc":0.84},{"e":87,"loss":1.46,"acc":0.765},{"e":88,"loss":1.36,"acc":0.844},{"e":89,"loss":1.35,"acc":0.837},{"e":90,"loss":1.35,"acc":0.83},
      {"e":91,"loss":1.34,"acc":0.844},{"e":92,"loss":1.34,"acc":0.828},{"e":93,"loss":1.33,"acc":0.815},{"e":94,"loss":1.33,"acc":0.828},{"e":95,"loss":1.32,"acc":0.837},
      {"e":96,"loss":1.32,"acc":0.835},{"e":97,"loss":1.31,"acc":0.818},{"e":98,"loss":1.31,"acc":0.808},{"e":99,"loss":1.3,"acc":0.832},{"e":100,"loss":1.3,"acc":0.842},
      {"e":101,"loss":1.29,"acc":0.803},{"e":102,"loss":1.29,"acc":0.849},{"e":103,"loss":1.28,"acc":0.852},{"e":104,"loss":1.28,"acc":0.849},{"e":105,"loss":1.28,"acc":0.827},
      {"e":106,"loss":1.36,"acc":0.786},{"e":107,"loss":1.28,"acc":0.857},{"e":108,"loss":1.27,"acc":0.852},{"e":109,"loss":1.27,"acc":0.837},{"e":110,"loss":1.35,"acc":0.808},
      {"e":111,"loss":1.27,"acc":0.782},{"e":112,"loss":1.26,"acc":0.857},{"e":113,"loss":1.26,"acc":0.837},{"e":114,"loss":1.26,"acc":0.798},{"e":115,"loss":1.25,"acc":0.844},
      {"e":116,"loss":1.25,"acc":0.849},{"e":117,"loss":1.25,"acc":0.789},{"e":118,"loss":1.24,"acc":0.844},{"e":119,"loss":1.24,"acc":0.842},{"e":120,"loss":1.24,"acc":0.823},
      {"e":121,"loss":1.24,"acc":0.859},{"e":122,"loss":1.23,"acc":0.857},{"e":123,"loss":1.23,"acc":0.815},{"e":124,"loss":1.23,"acc":0.806},{"e":125,"loss":1.22,"acc":0.827},
      {"e":126,"loss":1.22,"acc":0.852},{"e":127,"loss":1.22,"acc":0.835},{"e":128,"loss":1.22,"acc":0.837},{"e":129,"loss":1.21,"acc":0.837},{"e":130,"loss":1.21,"acc":0.844},
      {"e":131,"loss":1.3,"acc":0.76},{"e":132,"loss":1.2,"acc":0.866},{"e":133,"loss":1.2,"acc":0.866},{"e":134,"loss":1.2,"acc":0.857},{"e":135,"loss":1.2,"acc":0.866},
      {"e":136,"loss":1.19,"acc":0.871},{"e":137,"loss":1.19,"acc":0.798},{"e":138,"loss":1.19,"acc":0.866},{"e":139,"loss":1.28,"acc":0.774},{"e":140,"loss":1.18,"acc":0.864},
      {"e":141,"loss":1.18,"acc":0.847},{"e":142,"loss":1.18,"acc":0.789},{"e":143,"loss":1.17,"acc":0.861},{"e":144,"loss":1.17,"acc":0.869},{"e":145,"loss":1.17,"acc":0.869},
      {"e":146,"loss":1.16,"acc":0.871},{"e":147,"loss":1.22,"acc":0.813},{"e":148,"loss":1.16,"acc":0.861},{"e":149,"loss":1.15,"acc":0.832},{"e":150,"loss":1.14,"acc":0.825},
      {"e":151,"loss":1.13,"acc":0.803},{"e":152,"loss":1.12,"acc":0.827},{"e":153,"loss":1.11,"acc":0.827},{"e":154,"loss":1.1,"acc":0.852},{"e":155,"loss":1.09,"acc":0.84},
      {"e":156,"loss":1.08,"acc":0.842},{"e":157,"loss":1.08,"acc":0.813},{"e":158,"loss":1.07,"acc":0.864},{"e":159,"loss":1.07,"acc":0.866},{"e":160,"loss":1.07,"acc":0.869},
      {"e":161,"loss":1.07,"acc":0.878},{"e":162,"loss":1.06,"acc":0.871},{"e":163,"loss":1.06,"acc":0.876},{"e":164,"loss":1.06,"acc":0.876},{"e":165,"loss":1.06,"acc":0.874},
      {"e":166,"loss":1.06,"acc":0.857},{"e":167,"loss":1.05,"acc":0.866},{"e":168,"loss":1.05,"acc":0.859},{"e":169,"loss":1.05,"acc":0.876},{"e":170,"loss":1.05,"acc":0.866},
      {"e":171,"loss":1.05,"acc":0.869},{"e":172,"loss":1.05,"acc":0.871},{"e":173,"loss":1.04,"acc":0.874},{"e":174,"loss":1.04,"acc":0.876},{"e":175,"loss":1.04,"acc":0.871},
      {"e":176,"loss":1.04,"acc":0.874},{"e":177,"loss":1.04,"acc":0.878},{"e":178,"loss":1.04,"acc":0.84},{"e":179,"loss":1.04,"acc":0.876},{"e":180,"loss":1.03,"acc":0.878},
      {"e":181,"loss":1.03,"acc":0.876},{"e":182,"loss":1.03,"acc":0.876},{"e":183,"loss":1.03,"acc":0.875},{"e":184,"loss":1.03,"acc":0.876},{"e":185,"loss":1.03,"acc":0.875},
      {"e":186,"loss":1.03,"acc":0.871},{"e":187,"loss":1.02,"acc":0.859},{"e":188,"loss":1.02,"acc":0.869},{"e":189,"loss":1.02,"acc":0.874},{"e":190,"loss":1.02,"acc":0.876},
      {"e":191,"loss":1.02,"acc":0.878},{"e":192,"loss":1.02,"acc":0.876},{"e":193,"loss":1.02,"acc":0.859},{"e":194,"loss":1.02,"acc":0.864},{"e":195,"loss":1.12,"acc":0.806},
      {"e":196,"loss":0.98,"acc":0.866},{"e":197,"loss":0.97,"acc":0.883},{"e":198,"loss":0.97,"acc":0.876},{"e":199,"loss":0.97,"acc":0.871},{"e":200,"loss":0.97,"acc":0.874}
    ]
  },
  "vconcat": [
    {
      "data": {"name": "mad"},
      "title": {"text": "（a）MAD-Net", "offset": -46, "dx": 14},
      "width": 2424, "height": 483,
      "encoding": {
        "x": {"field": "e", "type": "quantitative", "scale": {"domain": [-10, 225], "nice": false, "zero": false},
          "axis": {"title": "Epoch", "values": [0,25,50,75,100,125,150,175,200], "labelExpr": "datum.value % 50 === 0 ? datum.label : ''",
            "tickSize": {"condition": {"test": "datum.value % 50 === 0", "value": 16}, "value": 8}, "titleX": 2385, "titleY": 49}}
      },
      "layer": [
        {"mark": {"type": "line", "strokeWidth": 5},
          "encoding": {
            "y": {"field": "loss", "type": "quantitative", "scale": {"domain": [-0.47, 8], "nice": false, "zero": false},
              "axis": {"title": "Validation Loss", "orient": "left", "format": "d", "values": [0,1,2,3,4,5,6,7,8], "labelExpr": "datum.value % 2 === 0 ? datum.label : ''",
                "tickSize": {"condition": {"test": "datum.value % 2 === 0", "value": 16}, "value": 8},
                "gridOpacity": {"condition": {"test": "datum.value % 2 === 0 && datum.value < 8", "value": 1}, "value": 0}, "titleX": -116}},
            "color": {"datum": "Validation Loss", "type": "nominal", "scale": {"domain": ["Validation Loss", "Validation Accuracy"], "range": ["#1A6FB5", "#FF8A30"]},
              "legend": {"title": null, "orient": "none", "legendX": 1786, "legendY": 168, "symbolType": "M-1,0H3"}}
          }},
        {"mark": {"type": "line", "strokeWidth": 5},
          "encoding": {
            "y": {"field": "acc", "type": "quantitative", "scale": {"domain": [0.3, 1.0], "nice": false, "zero": false},
              "axis": {"title": "Validation Accuracy", "orient": "right", "format": ".1f", "values": [0.4,0.5,0.6,0.7,0.8,0.9,1.0],
                "labelExpr": "datum.value === 0.4 || datum.value === 0.6 || datum.value === 0.8 || datum.value === 1 ? datum.label : ''",
                "tickSize": {"condition": {"test": "datum.value === 0.4 || datum.value === 0.6 || datum.value === 0.8 || datum.value === 1", "value": 16}, "value": 8}}},
            "color": {"datum": "Validation Accuracy", "type": "nominal"}
          }}
      ],
      "resolve": {"scale": {"y": "independent"}}
    },
    {
      "data": {"name": "cnn"},
      "title": {"text": "（b）CNN_LSTM_Attention", "offset": -34, "dx": 4},
      "width": 2424, "height": 483,
      "encoding": {
        "x": {"field": "e", "type": "quantitative", "scale": {"domain": [-10, 225], "nice": false, "zero": false},
          "axis": {"title": "Epoch", "values": [0,25,50,75,100,125,150,175,200], "labelExpr": "datum.value % 50 === 0 ? datum.label : ''",
            "tickSize": {"condition": {"test": "datum.value % 50 === 0", "value": 16}, "value": 8}, "titleX": 2394, "titleY": 43}}
      },
      "layer": [
        {"mark": {"type": "line", "strokeWidth": 5},
          "encoding": {
            "y": {"field": "loss", "type": "quantitative", "scale": {"domain": [-0.5, 30], "nice": false, "zero": false},
              "axis": {"title": "Validation Loss", "orient": "left", "format": "d", "values": [0,2.5,5,7.5,10,12.5,15,17.5,20,22.5,25,27.5,30], "labelExpr": "datum.value % 5 === 0 ? datum.label : ''",
                "tickSize": {"condition": {"test": "datum.value % 5 === 0", "value": 16}, "value": 8},
                "gridOpacity": {"condition": {"test": "datum.value % 5 === 0 && datum.value < 30", "value": 1}, "value": 0}, "titleX": -136}},
            "color": {"datum": "Validation Loss", "type": "nominal", "scale": {"domain": ["Validation Loss", "Validation Accuracy"], "range": ["#1A6FB5", "#FF8A30"]},
              "legend": {"title": null, "orient": "none", "legendX": 1786, "legendY": 175, "symbolType": "M-1,0H3"}}
          }},
        {"mark": {"type": "line", "strokeWidth": 5},
          "encoding": {
            "y": {"field": "acc", "type": "quantitative", "scale": {"domain": [0.3, 1.0], "nice": false, "zero": false},
              "axis": {"title": "Validation Accuracy", "orient": "right", "format": ".1f", "values": [0.4,0.5,0.6,0.7,0.8,0.9,1.0],
                "labelExpr": "datum.value === 0.4 || datum.value === 0.6 || datum.value === 0.8 || datum.value === 1 ? datum.label : ''",
                "tickSize": {"condition": {"test": "datum.value === 0.4 || datum.value === 0.6 || datum.value === 0.8 || datum.value === 1", "value": 16}, "value": 8}}},
            "color": {"datum": "Validation Accuracy", "type": "nominal"}
          }}
      ],
      "resolve": {"scale": {"y": "independent"}}
    },
    {
      "data": {"name": "fcn"},
      "title": {"text": "（c）FCN", "offset": -22, "dx": 4},
      "width": 2424, "height": 483,
      "encoding": {
        "x": {"field": "e", "type": "quantitative", "scale": {"domain": [-10, 225], "nice": false, "zero": false},
          "axis": {"title": "Epoch", "values": [0,25,50,75,100,125,150,175,200], "labelExpr": "datum.value % 50 === 0 ? datum.label : ''",
            "tickSize": {"condition": {"test": "datum.value % 50 === 0", "value": 16}, "value": 8}, "titleX": 2390, "titleY": 45}}
      },
      "layer": [
        {"mark": {"type": "line", "strokeWidth": 5},
          "encoding": {
            "y": {"field": "loss", "type": "quantitative", "scale": {"domain": [-0.49, 5.47], "nice": false, "zero": false},
              "axis": {"title": "Validation Loss", "orient": "left", "format": "d", "values": [0,0.5,1,1.5,2,2.5,3,3.5,4,4.5,5], "labelExpr": "datum.value % 1 === 0 ? datum.label : ''",
                "tickSize": {"condition": {"test": "datum.value % 1 === 0", "value": 16}, "value": 8},
                "gridOpacity": {"condition": {"test": "datum.value % 1 === 0", "value": 1}, "value": 0}, "titleX": -116}},
            "color": {"datum": "Validation Loss", "type": "nominal", "scale": {"domain": ["Validation Loss", "Validation Accuracy"], "range": ["#1A6FB5", "#FF8A30"]},
              "legend": {"title": null, "orient": "none", "legendX": 1786, "legendY": 129, "symbolType": "M-1,0H3"}}
          }},
        {"mark": {"type": "line", "strokeWidth": 5},
          "encoding": {
            "y": {"field": "acc", "type": "quantitative", "scale": {"domain": [0.095, 0.897], "nice": false, "zero": false},
              "axis": {"title": "Validation Accuracy", "orient": "right", "format": ".1f", "values": [0.2,0.3,0.4,0.5,0.6,0.7,0.8],
                "labelExpr": "datum.value === 0.2 || datum.value === 0.4 || datum.value === 0.6 || datum.value === 0.8 ? datum.label : ''",
                "tickSize": {"condition": {"test": "datum.value === 0.2 || datum.value === 0.4 || datum.value === 0.6 || datum.value === 0.8", "value": 16}, "value": 8}}},
            "color": {"datum": "Validation Accuracy", "type": "nominal"}
          }}
      ],
      "resolve": {"scale": {"y": "independent"}}
    },
    {
      "data": {"name": "refine"},
      "title": {"text": "（d）RefineNet", "offset": -28, "dx": 0},
      "width": 2424, "height": 483,
      "encoding": {
        "x": {"field": "e", "type": "quantitative", "scale": {"domain": [-10, 225], "nice": false, "zero": false},
          "axis": {"title": "Epoch", "values": [0,25,50,75,100,125,150,175,200], "labelExpr": "datum.value % 50 === 0 ? datum.label : ''",
            "tickSize": {"condition": {"test": "datum.value % 50 === 0", "value": 16}, "value": 8}, "titleX": 2393, "titleY": 59}}
      },
      "layer": [
        {"mark": {"type": "line", "strokeWidth": 5},
          "encoding": {
            "y": {"field": "loss", "type": "quantitative", "scale": {"domain": [-0.5, 80], "nice": false, "zero": false},
              "axis": {"title": "Validation Loss", "orient": "left", "format": "d", "values": [0,7.5,15,22.5,30,37.5,45,52.5,60,67.5,75], "labelExpr": "datum.value % 15 === 0 ? datum.label : ''",
                "tickSize": {"condition": {"test": "datum.value % 15 === 0", "value": 16}, "value": 8},
                "gridOpacity": {"condition": {"test": "datum.value % 15 === 0", "value": 1}, "value": 0}, "titleX": -136}},
            "color": {"datum": "Validation Loss", "type": "nominal", "scale": {"domain": ["Validation Loss", "Validation Accuracy"], "range": ["#1A6FB5", "#FF8A30"]},
              "legend": {"title": null, "orient": "none", "legendX": 1786, "legendY": 143, "symbolType": "M-1,0H3"}}
          }},
        {"mark": {"type": "line", "strokeWidth": 5},
          "encoding": {
            "y": {"field": "acc", "type": "quantitative", "scale": {"domain": [0.4, 1.0], "nice": false, "zero": false},
              "axis": {"title": "Validation Accuracy", "orient": "right", "format": ".1f", "values": [0.4,0.5,0.6,0.7,0.8,0.9,1.0],
                "labelExpr": "datum.value === 0.4 || datum.value === 0.6 || datum.value === 0.8 || datum.value === 1 ? datum.label : ''",
                "tickSize": {"condition": {"test": "datum.value === 0.4 || datum.value === 0.6 || datum.value === 0.8 || datum.value === 1", "value": 16}, "value": 8}}},
            "color": {"datum": "Validation Accuracy", "type": "nominal"}
          }}
      ],
      "resolve": {"scale": {"y": "independent"}}
    },
    {
      "data": {"name": "unet"},
      "title": {"text": "（e）U-Net", "offset": -38, "dx": 0},
      "width": 2424, "height": 483,
      "encoding": {
        "x": {"field": "e", "type": "quantitative", "scale": {"domain": [-10, 225], "nice": false, "zero": false},
          "axis": {"title": "Epoch", "values": [0,25,50,75,100,125,150,175,200], "labelExpr": "datum.value % 50 === 0 ? datum.label : ''",
            "tickSize": {"condition": {"test": "datum.value % 50 === 0", "value": 16}, "value": 8}, "titleX": 2387, "titleY": 50}}
      },
      "layer": [
        {"mark": {"type": "line", "strokeWidth": 5},
          "encoding": {
            "y": {"field": "loss", "type": "quantitative", "scale": {"domain": [-0.45, 25], "nice": false, "zero": false},
              "axis": {"title": "Validation Loss", "orient": "left", "format": "d", "values": [0,2.5,5,7.5,10,12.5,15,17.5,20,22.5,25], "labelExpr": "datum.value % 5 === 0 ? datum.label : ''",
                "tickSize": {"condition": {"test": "datum.value % 5 === 0", "value": 16}, "value": 8},
                "gridOpacity": {"condition": {"test": "datum.value % 5 === 0 && datum.value < 25", "value": 1}, "value": 0}, "titleX": -136}},
            "color": {"datum": "Validation Loss", "type": "nominal", "scale": {"domain": ["Validation Loss", "Validation Accuracy"], "range": ["#1A6FB5", "#FF8A30"]},
              "legend": {"title": null, "orient": "none", "legendX": 1786, "legendY": 208, "symbolType": "M-1,0H3"}}
          }},
        {"mark": {"type": "line", "strokeWidth": 5},
          "encoding": {
            "y": {"field": "acc", "type": "quantitative", "scale": {"domain": [0.3, 1.0], "nice": false, "zero": false},
              "axis": {"title": "Validation Accuracy", "orient": "right", "format": ".1f", "values": [0.4,0.5,0.6,0.7,0.8,0.9,1.0],
                "labelExpr": "datum.value === 0.4 || datum.value === 0.6 || datum.value === 0.8 || datum.value === 1 ? datum.label : ''",
                "tickSize": {"condition": {"test": "datum.value === 0.4 || datum.value === 0.6 || datum.value === 0.8 || datum.value === 1", "value": 16}, "value": 8}}},
            "color": {"datum": "Validation Accuracy", "type": "nominal"}
          }}
      ],
      "resolve": {"scale": {"y": "independent"}}
    }
  ],
  "config": {
    "view": {"stroke": null},
    "title": {"anchor": "start", "frame": "group", "font": "Liberation Serif, Noto Sans CJK SC", "fontSize": 76, "fontWeight": "normal", "color": "#111111", "baseline": "alphabetic"},
    "axisBottom": {"domainColor": "#3a3a3a", "domainWidth": 4, "tickColor": "#3a3a3a", "tickWidth": 3, "labelColor": "#333333", "labelFont": "Liberation Serif",
      "labelFontSize": 40, "labelPadding": 18, "grid": false, "titleFont": "Liberation Serif", "titleFontWeight": "bold", "titleFontSize": 46, "titleColor": "#111111",
      "titleAlign": "center", "titleBaseline": "middle"},
    "axisLeft": {"domainColor": "#1F74BA", "domainWidth": 3, "tickColor": "#1F74BA", "tickWidth": 3, "labelColor": "#1F74BA", "labelFont": "Liberation Serif",
      "labelFontSize": 36, "labelFontWeight": "bold", "labelPadding": 14, "grid": true, "gridColor": "#e6e6e6", "gridWidth": 3,
      "titleColor": "#1F74BA", "titleFont": "Liberation Serif", "titleFontSize": 49, "titleFontWeight": "bold", "titleAngle": 270,
      "titleAlign": "center", "titleBaseline": "middle", "titleY": 241.5},
    "axisRight": {"domainColor": "#FF8A30", "domainWidth": 3, "tickColor": "#FF8A30", "tickWidth": 3, "labelColor": "#FF8A30", "labelFont": "Liberation Serif",
      "labelFontSize": 36, "labelFontWeight": "bold", "labelPadding": 16, "grid": false,
      "titleColor": "#FF8A30", "titleFont": "Liberation Serif", "titleFontSize": 49, "titleFontWeight": "bold", "titleAngle": 270,
      "titleAlign": "center", "titleBaseline": "middle", "titleX": 146, "titleY": 241.5},
    "legend": {"symbolSize": 3600, "symbolStrokeWidth": 5, "labelFont": "Liberation Serif", "labelFontSize": 54, "labelFontWeight": "bold",
      "labelColor": "#111111", "labelOffset": 66, "labelLimit": 0, "padding": 10, "rowPadding": 8, "strokeColor": "#8f8f8f", "fillColor": "#ffffff", "strokeWidth": 2}
  }
}
